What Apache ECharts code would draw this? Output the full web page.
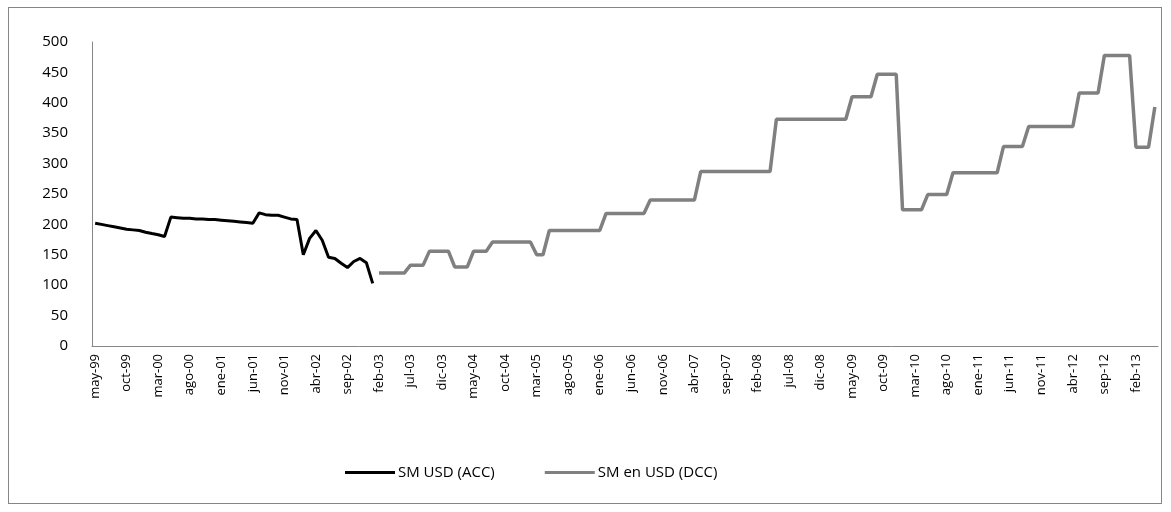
<!DOCTYPE html>
<html>
<head>
<meta charset="utf-8">
<script src="https://cdn.jsdelivr.net/npm/echarts@6/dist/echarts.min.js"></script>
<style>
  html, body { margin: 0; padding: 0; background: #fff; }
  #frame {
    position: absolute; left: 8px; top: 7px; width: 1154px; height: 497px;
    border: 1px solid #868686; box-sizing: border-box;
  }
  #chart { position: absolute; left: 0; top: 0; width: 1171px; height: 512px; }
</style>
</head>
<body>
<div id="frame"></div>
<div id="chart"></div>
<script>
// month names used for the category labels (may-99 ... may-13)
const monthNames = ["ene", "feb", "mar", "abr", "may", "jun", "jul", "ago", "sep", "oct", "nov", "dic"];
const firstYear = 1999;
const firstMonth = 4; // may
const monthCount = 169;

const categories = [];
for (let i = 0; i < monthCount; i++) {
  const m = (firstMonth + i) % 12;
  const y = firstYear + Math.floor((firstMonth + i) / 12);
  categories.push(monthNames[m] + "-" + String(y % 100).padStart(2, "0"));
}

// SM USD (ACC): may-99 .. ene-03
const accValues = [
  202, 200, 198, 196, 194, 192, 191, 190, 187, 185, 183, 180,
  212, 211, 210, 210, 209, 209, 208, 208, 207, 206, 205, 204,
  203, 202, 219, 216, 215, 215, 212, 209, 208, 150, 177, 190,
  174, 146, 144, 136, 129, 139, 144, 137, 103
];

// SM en USD (DCC): feb-03 .. may-13
const dccStart = 45;
const dccValues = [
  120, 120, 120, 120, 120,
  133, 133, 133,
  156, 156, 156, 156,
  130, 130, 130,
  156, 156, 156,
  171, 171, 171, 171, 171, 171, 171,
  150, 150,
  190, 190, 190, 190, 190, 190, 190, 190, 190,
  218, 218, 218, 218, 218, 218, 218,
  240, 240, 240, 240, 240, 240, 240, 240,
  287, 287, 287, 287, 287, 287, 287, 287, 287, 287, 287, 287,
  373, 373, 373, 373, 373, 373, 373, 373, 373, 373, 373, 373,
  410, 410, 410, 410,
  447, 447, 447, 447,
  224, 224, 224, 224,
  249, 249, 249, 249,
  285, 285, 285, 285, 285, 285, 285, 285,
  328, 328, 328, 328,
  361, 361, 361, 361, 361, 361, 361, 361,
  416, 416, 416, 416,
  478, 478, 478, 478, 478,
  327, 327, 327,
  393
];

const accData = accValues.concat(new Array(monthCount - accValues.length).fill(null));
const dccData = new Array(dccStart).fill(null).concat(dccValues);

const chart = echarts.init(document.getElementById("chart"));
const font = "'Open Sans', sans-serif";

chart.setOption({
  animation: false,
  backgroundColor: "transparent",
  textStyle: { fontFamily: font },
  grid: { left: 92, right: 13, top: 42, bottom: 166 },
  legend: {
    bottom: 27,
    left: 340,
    icon: "rect",
    itemWidth: 50,
    itemHeight: 3,
    itemGap: 50,
    textStyle: { fontSize: 15, color: "#000", fontFamily: font, padding: [0, 0, 0, -2] },
    data: ["SM USD (ACC)", "SM en USD (DCC)"]
  },
  xAxis: {
    type: "category",
    data: categories,
    boundaryGap: true,
    axisLine: { show: true, lineStyle: { color: "#868686", width: 1 } },
    axisTick: { show: false },
    axisLabel: {
      interval: 4,
      rotate: 90,
      margin: 8,
      fontSize: 13,
      color: "#000",
      fontFamily: font
    },
    splitLine: { show: false }
  },
  yAxis: {
    type: "value",
    min: 0,
    max: 500,
    interval: 50,
    axisLine: { show: true, lineStyle: { color: "#868686", width: 1 } },
    axisTick: { show: false },
    axisLabel: { fontSize: 15, color: "#000", margin: 24, fontFamily: font },
    splitLine: { show: false }
  },
  series: [
    {
      name: "SM USD (ACC)",
      type: "line",
      data: accData,
      symbol: "none",
      color: "#000",
      lineStyle: { color: "#000", width: 3 },
      connectNulls: false
    },
    {
      name: "SM en USD (DCC)",
      type: "line",
      data: dccData,
      symbol: "none",
      color: "#808080",
      lineStyle: { color: "#808080", width: 3.5 },
      connectNulls: false
    }
  ]
});
</script>
</body>
</html>
